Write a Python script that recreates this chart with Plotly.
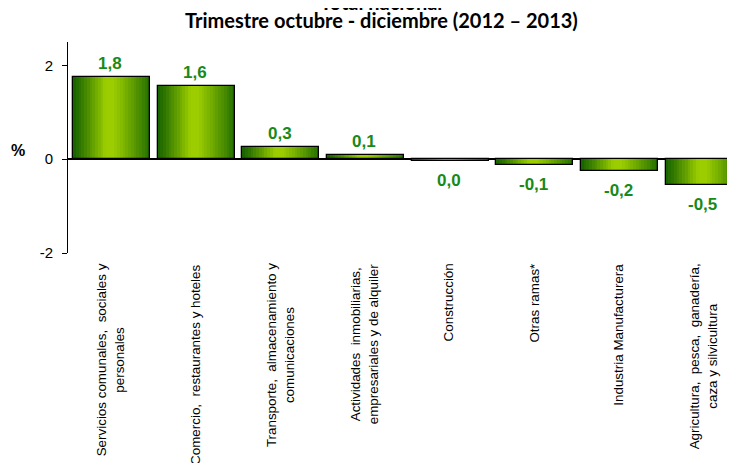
import plotly.graph_objects as go

categories = [
    "Servicios comunales,  sociales y<br>personales",
    "Comercio,  restaurantes y hoteles",
    "Transporte,  almacenamiento y<br>comunicaciones",
    "Actividades  inmobiliarias,<br>empresariales y de alquiler",
    "Construcción",
    "Otras ramas*",
    "Industria Manufacturera",
    "Agricultura,  pesca,  ganadería,<br>caza y silvicultura",
]
values = [1.75, 1.56, 0.26, 0.09, -0.03, -0.13, -0.26, -0.55]
value_labels = ["1,8", "1,6", "0,3", "0,1", "0,0", "-0,1", "-0,2", "-0,5"]
title_lines = ["Total nacional", "Trimestre octubre - diciembre (2012 – 2013)"]
y_ticks = [-2, 0, 2]
y_tick_text = ["-2", "0", "2"]

idx = list(range(len(categories)))

fig = go.Figure()

# gradient bars built from stripes
n = 28
bar_w = 0.91
bar_off = -0.44
dark_l = (22, 98, 0)
light = (155, 205, 0)
dark_r = (34, 110, 0)


def grad(t):
    if t < 0.42:
        a, b, u = dark_l, light, t / 0.42
    elif t < 0.52:
        return "rgb(%d,%d,%d)" % light
    else:
        a, b, u = light, dark_r, (t - 0.52) / 0.48
    u = u ** 1.1
    return "rgb(%d,%d,%d)" % tuple(round(a[k] + (b[k] - a[k]) * u) for k in range(3))


sw = bar_w / n
for i in range(n):
    t = (i + 0.5) / n
    fig.add_trace(go.Bar(
        x=idx, y=values, width=sw * (1.25 if i < n - 1 else 1.0),
        offset=bar_off + i * sw, marker=dict(color=grad(t), line=dict(width=0)),
        hoverinfo="skip", showlegend=False,
    ))

# outline
fig.add_trace(go.Bar(
    x=idx, y=values, width=bar_w, offset=bar_off,
    marker=dict(color="rgba(0,0,0,0)", line=dict(color="black", width=1.3)),
    showlegend=False,
))

# page body has an 8px margin: plot area is placed so it lands where the reference has it
PX_L, PX_BOTTOM, PLOT_W, PLOT_H = 68, 253, 667, 211


def px(xs):
    return (xs - PX_L) / PLOT_W


def py(ys):
    return (PX_BOTTOM - ys) / PLOT_H


annotations = []
lab_font = dict(family="Liberation Sans, Arial", size=17, color="#178a17")
for i, (v, lab) in enumerate(zip(values, value_labels)):
    if v >= 0:
        annotations.append(dict(x=i, y=v, xref="x", yref="y", text="<b>%s</b>" % lab,
                                showarrow=False, xanchor="center", yanchor="bottom",
                                yshift=2, font=lab_font))
    else:
        annotations.append(dict(x=i, y=v, xref="x", yref="y", text="<b>%s</b>" % lab,
                                showarrow=False, xanchor="center", yanchor="top",
                                yshift=-8, font=lab_font))

for i, c in enumerate(categories):
    annotations.append(dict(x=i, y=-8.5 / PLOT_H, xref="x", yref="paper", text=c,
                            showarrow=False, textangle=-90, yanchor="top", xanchor="center",
                            align="center",
                            font=dict(family="Liberation Sans, Arial", size=13.4, color="black")))

title_font = dict(family="Lato, Liberation Sans", size=20, color="black")
annotations.append(dict(x=px(381), y=py(2), xref="paper", yref="paper",
                        text="<b>%s</b>" % title_lines[0], showarrow=False,
                        xanchor="center", yanchor="middle", font=title_font))
annotations.append(dict(x=px(381), y=py(20.5), xref="paper", yref="paper",
                        text="<b>%s</b>" % title_lines[1], showarrow=False,
                        xanchor="center", yanchor="middle", font=title_font))
annotations.append(dict(x=px(18), y=py(150), xref="paper", yref="paper",
                        text="<b>%</b>", showarrow=False, xanchor="center", yanchor="middle",
                        font=dict(family="Liberation Sans, Arial", size=16, color="black")))

xr = [-0.5, 7.38]
fig.update_layout(
    width=735, height=463,
    margin=dict(l=60, r=8, t=34, b=218),
    paper_bgcolor="white", plot_bgcolor="white",
    barmode="overlay", bargap=0,
    showlegend=False,
    annotations=annotations,
    xaxis=dict(range=xr, showticklabels=False, ticks="", showgrid=False,
               zeroline=False, showline=False),
    xaxis2=dict(overlaying="x", anchor="free", position=2 / 4.5, range=xr,
                showticklabels=False, ticks="inside", ticklen=3, tickcolor="black",
                tickvals=[k * 0.5 - 0.5 for k in range(17)],
                showgrid=False, zeroline=False, showline=False),
    yaxis=dict(range=[-2, 2.5], tickvals=y_ticks, ticktext=y_tick_text,
               ticks="outside", ticklen=5,
               tickcolor="black", showline=True, linecolor="black", linewidth=1,
               showgrid=False, zeroline=True, zerolinecolor="black", zerolinewidth=1.5,
               ticklabelstandoff=6,
               tickfont=dict(family="Liberation Sans, Arial", size=15, color="black")),
)

fig.write_html("out.html")
